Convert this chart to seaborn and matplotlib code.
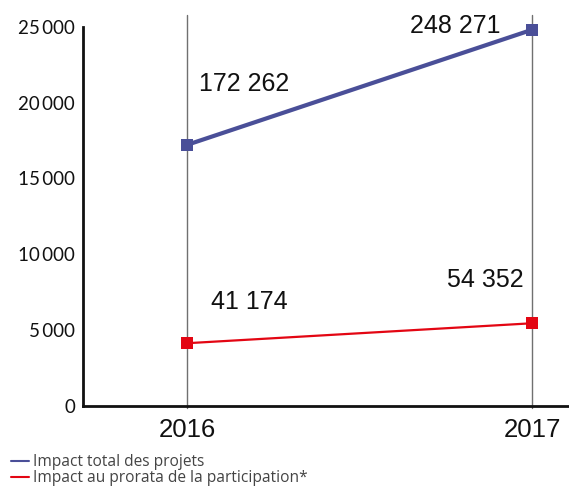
import matplotlib
matplotlib.use("Agg")
import matplotlib.pyplot as plt
from matplotlib.lines import Line2D
import seaborn as sns
import pandas as pd

# Data
years = ["2016", "2017"]
total_impact = [172262, 248271]
prorata_impact = [41174, 54352]
series_names = ["Impact total des projets", "Impact au prorata de la participation*"]
y_ticks = [0, 5000, 10000, 15000, 20000, 25000]

BLUE = "#4a4f98"
RED = "#e30613"

sns.set_theme(style="white")
plt.rcParams["font.family"] = ["Liberation Sans", "DejaVu Sans"]

fig = plt.figure(figsize=(5.69, 4.88), dpi=100)
ax = fig.add_axes([0.1467, 0.169, 1 - 0.1467, 0.80])

x_pos = list(range(len(years)))
df = pd.DataFrame({
    "x": x_pos * 2,
    "value": total_impact + prorata_impact,
    "series": [series_names[0]] * len(years) + [series_names[1]] * len(years),
})
# chart scale is one tenth of the labelled figure
df["scaled"] = df["value"] / 10

# vertical guides at each year
for xp in x_pos:
    ax.axvline(xp, ymin=-0.006, ymax=1, color="#707070", lw=1.0, zorder=1, clip_on=False)

sns.lineplot(data=df[df["series"] == series_names[0]], x="x", y="scaled",
             color=BLUE, lw=3.0, marker="s", markersize=9, markeredgewidth=0,
             ax=ax, zorder=3, legend=False)
sns.lineplot(data=df[df["series"] == series_names[1]], x="x", y="scaled",
             color=RED, lw=1.6, marker="s", markersize=9, markeredgewidth=0,
             ax=ax, zorder=3, legend=False)

# value labels
label_offsets = {
    (0, 0): (41, 44), (0, 1): (-55, 3),
    (1, 0): (45, 30), (1, 1): (-34, 31),
}
for si, vals in enumerate([total_impact, prorata_impact]):
    for xi, v in enumerate(vals):
        txt = f"{v:,}".replace(",", " ")
        ax.annotate(txt, xy=(xi, v / 10), xytext=label_offsets[(si, xi)],
                    textcoords="offset points", ha="center", va="center",
                    fontsize=18, color="#111111", zorder=4)

ax.set_xlim(-0.301, 1.107)
ax.set_ylim(0, 25793)
ax.set_xticks(x_pos)
ax.set_xticklabels(years, fontsize=18.5, color="#111111")
ax.set_yticks(y_ticks)
ax.set_yticklabels([f"{t:,}".replace(",", "\u2009") for t in y_ticks],
                   fontsize=13.5, color="#111111", family=["Lato", "DejaVu Sans"])
ax.set_xlabel("")
ax.set_ylabel("")

ax.tick_params(axis="y", direction="in", length=14.5, width=1.6, color="#111111", pad=6)
ax.tick_params(axis="x", length=0, pad=9)

for side in ["top", "right"]:
    ax.spines[side].set_visible(False)
for side in ["left", "bottom"]:
    ax.spines[side].set_color("#111111")
    ax.spines[side].set_linewidth(2.0)
ax.spines["left"].set_bounds(0, 25000)
ax.grid(False)

handles = [Line2D([], [], color=BLUE, lw=1.5), Line2D([], [], color=RED, lw=1.5)]
fig.legend(handles, series_names, loc="upper left", bbox_to_anchor=(0.019, 0.069),
           frameon=False, handlelength=1.2, handletextpad=0.25, labelspacing=0.0,
           borderaxespad=0, borderpad=0,
           prop={"family": ["Open Sans", "DejaVu Sans"], "size": 11.2}, labelcolor="#444444")

fig.savefig("out.png", dpi=100)
